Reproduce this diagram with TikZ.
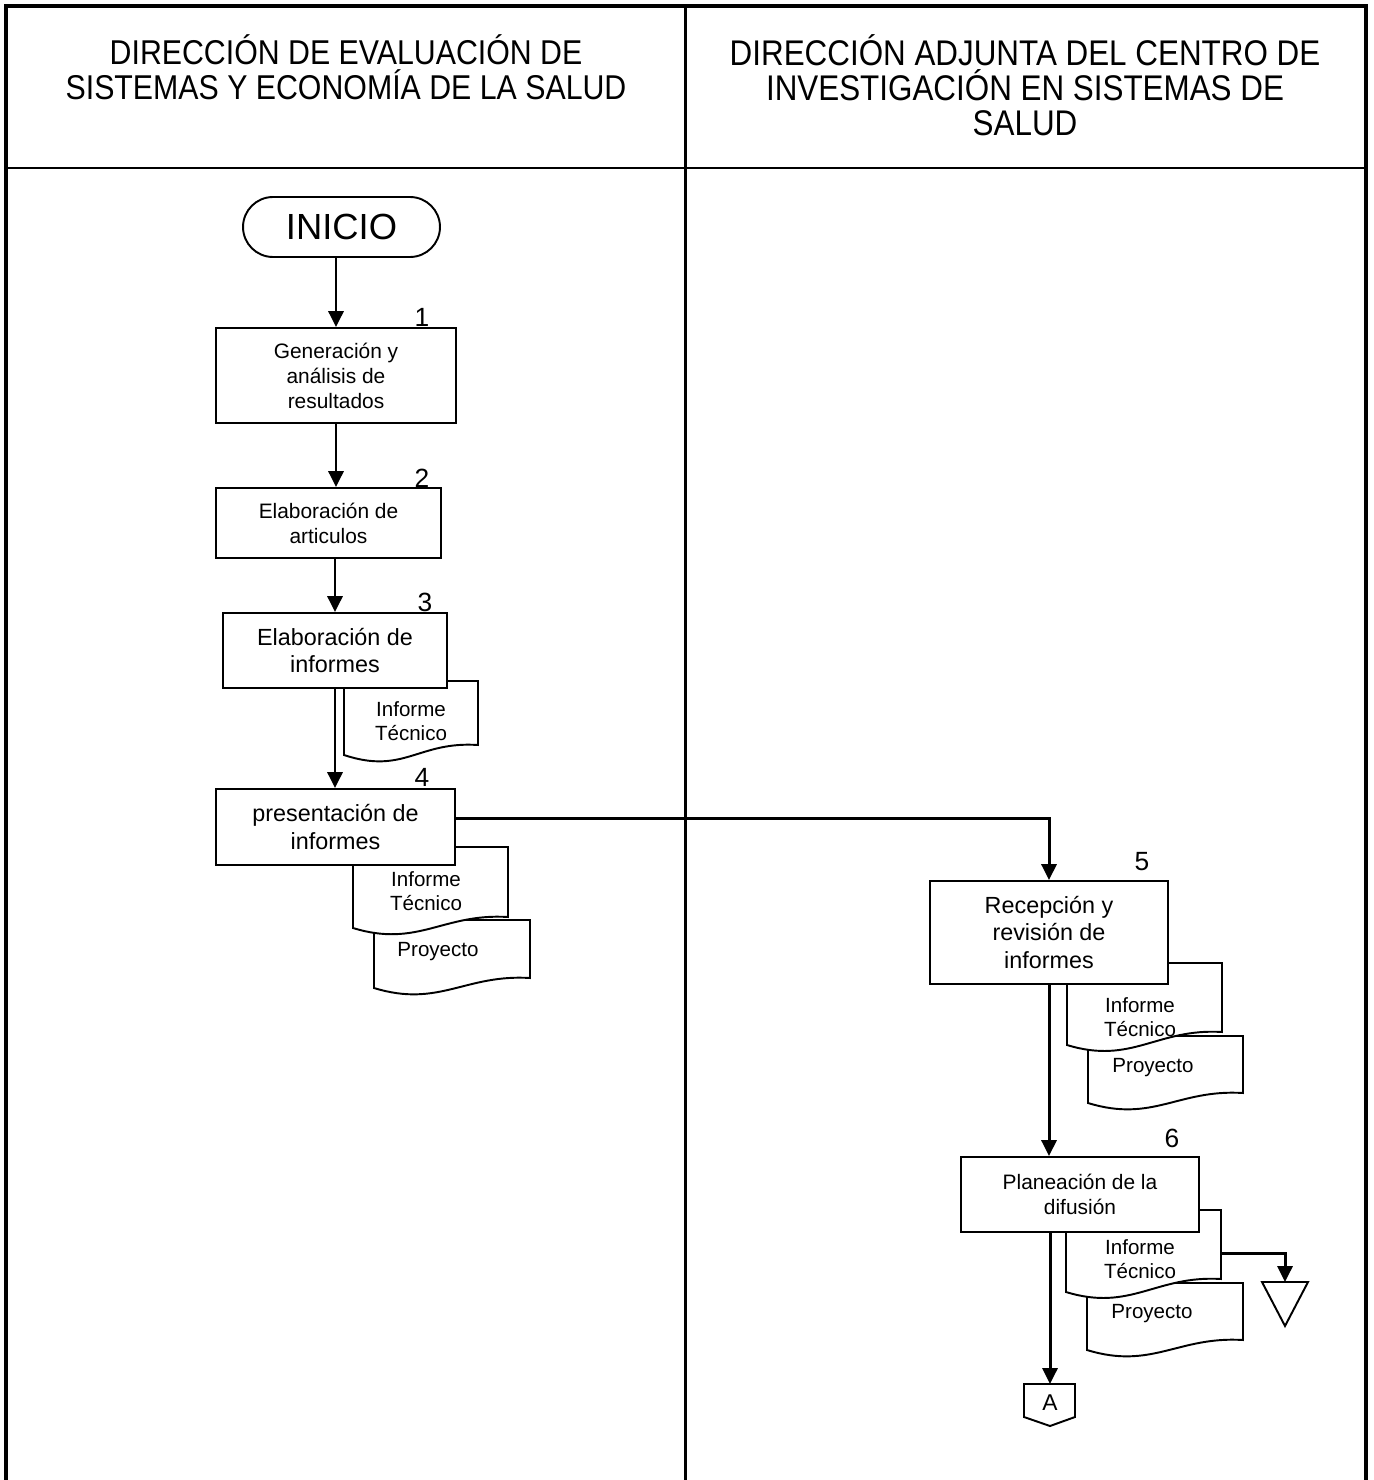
\documentclass[tikz,border=0pt]{standalone}
\usepackage{fontspec}
\setmainfont{Liberation Sans}
\newfontfamily\hdrfont{Liberation Sans}[FakeStretch=0.88]
\usetikzlibrary{arrows.meta}

\begin{document}
\begin{tikzpicture}[
    x=0.02cm, y=-0.02cm,
    frame/.style={line width=2.8pt},
    lane/.style={line width=1.7pt},
    hdr/.style={align=center, font=\hdrfont\fontsize{19.6}{19.8}\selectfont},
    terminal/.style={rectangle, draw, fill=white, rounded corners=0.6cm, line width=1.1pt, minimum width=3.94cm, minimum height=1.2cm, font=\fontsize{20.7}{24}\selectfont},
    box/.style={rectangle, draw, fill=white, line width=1.1pt, align=center, inner sep=2pt},
    smalltxt/.style={font=\fontsize{11.9}{14.2}\selectfont},
    bigtxt/.style={font=\fontsize{13.3}{15.9}\selectfont},
    doc/.style={draw, fill=white, line width=1.1pt},
    doctxt/.style={align=center, font=\fontsize{11.7}{14}\selectfont},
    num/.style={font=\fontsize{15}{17}\selectfont},
    conn/.style={font=\fontsize{13}{15}\selectfont},
    arr/.style={-{Triangle[length=9pt, width=8.5pt]}, line width=1.7pt}
]
\useasboundingbox (0,0) rectangle (1373,1480);

% Frame and lanes
\draw[frame] (6,1480) -- (6,6) -- (1366,6) -- (1366,1480);
\draw[lane] (6,168) -- (1366,168);
\draw[lane] (685,6) -- (685,1480);

% Headers
\node[hdr] (hdrL) at (346,67) {DIRECCIÓN DE EVALUACIÓN DE\\SISTEMAS Y ECONOMÍA DE LA SALUD};
\node[hdr, font=\hdrfont\fontsize{20.3}{19.8}\selectfont] (hdrR) at (1025,85) {DIRECCIÓN ADJUNTA DEL CENTRO DE\\INVESTIGACIÓN EN SISTEMAS DE\\SALUD};

% Documents of step 3
\draw[doc] (344,681) -- (478,681) -- (478,745) .. controls +(-60,-4) and +(60,20) .. (344,755) -- cycle;
\node[doctxt] (inf3) at (411,721) {Informe\\Técnico};

% Documents of step 4
\draw[doc] (374,920) -- (530,920) -- (530,978) .. controls +(-65,-4) and +(65,20) .. (374,988) -- cycle;
\node[doctxt] (proy4) at (438,952) {Proyecto};
\draw[doc] (353,847) -- (508,847) -- (508,917) .. controls +(-65,-4) and +(65,20) .. (353,928) -- cycle;
\node[doctxt] (inf4) at (426,891) {Informe\\Técnico};

% Documents of step 5
\draw[doc] (1088,1036) -- (1243,1036) -- (1243,1093) .. controls +(-65,-4) and +(65,20) .. (1088,1103) -- cycle;
\node[doctxt] (proy5) at (1153,1068) {Proyecto};
\draw[doc] (1067,963) -- (1222,963) -- (1222,1032) .. controls +(-65,-4) and +(65,20) .. (1067,1045) -- cycle;
\node[doctxt] (inf5) at (1140,1017) {Informe\\Técnico};

% Documents of step 6
\draw[doc] (1087,1283) -- (1243,1283) -- (1243,1340) .. controls +(-65,-4) and +(65,20) .. (1087,1350) -- cycle;
\node[doctxt] (proy6) at (1152,1314) {Proyecto};
\draw[doc] (1066,1210) -- (1221,1210) -- (1221,1279) .. controls +(-65,-4) and +(65,20) .. (1066,1292) -- cycle;
\node[doctxt] (inf6) at (1140,1259) {Informe\\Técnico};
\coordinate (inf6r) at (1221,1253);

% Steps
\node[terminal] (inicio) at (341.5,227) {INICIO};
\node[box, smalltxt, minimum width=4.8cm, minimum height=1.9cm] (gen) at (336,375.5) {Generación y\\análisis de\\resultados};
\node[box, smalltxt, minimum width=4.5cm, minimum height=1.4cm] (art) at (328.5,523) {Elaboración de\\articulos};
\node[box, bigtxt, minimum width=4.48cm, minimum height=1.5cm] (elab) at (335,650.5) {Elaboración de\\informes};
\node[box, bigtxt, minimum width=4.78cm, minimum height=1.52cm] (pres) at (335.5,827) {presentación de\\informes};
\node[box, bigtxt, minimum width=4.76cm, minimum height=2.06cm] (recep) at (1049,932.5) {Recepción y\\revisión de\\informes};
\node[box, smalltxt, minimum width=4.76cm, minimum height=1.5cm] (plan) at (1080,1194.5) {Planeación de la\\difusión};

% Step numbers
\node[num] (n1) at (422,317) {1};
\node[num] (n2) at (422,478) {2};
\node[num] (n3) at (425,602) {3};
\node[num] (n4) at (422,777) {4};
\node[num] (n5) at (1142,862) {5};
\node[num] (n6) at (1172,1138) {6};

% Archive and connector
\draw[doc] (1262,1282) -- (1308,1282) -- (1285,1326) -- cycle;
\coordinate (archivo) at (1285,1282);
\draw[doc] (1024,1384) -- (1075,1384) -- (1075,1417) -- (1050,1426) -- (1024,1417) -- cycle;
\node[conn] (conA) at (1050,1403) {A};
\coordinate (conAtop) at (1050,1384);

% Arrows
\draw[arr] (inicio.south -| gen.north) -- (gen.north);
\draw[arr] (gen.south) -- (gen.south |- art.north);
\draw[arr] (elab.north |- art.south) -- (elab.north);
\draw[arr] (elab.south) -- (elab.south |- pres.north);
\draw[arr] ([yshift=0.18cm]pres.east) -| (recep.north);
\draw[arr] (recep.south) -- (recep.south |- plan.north);
\draw[arr] (conAtop |- plan.south) -- (conAtop);
\draw[arr] (inf6r) -| (archivo);

\end{tikzpicture}
\end{document}
